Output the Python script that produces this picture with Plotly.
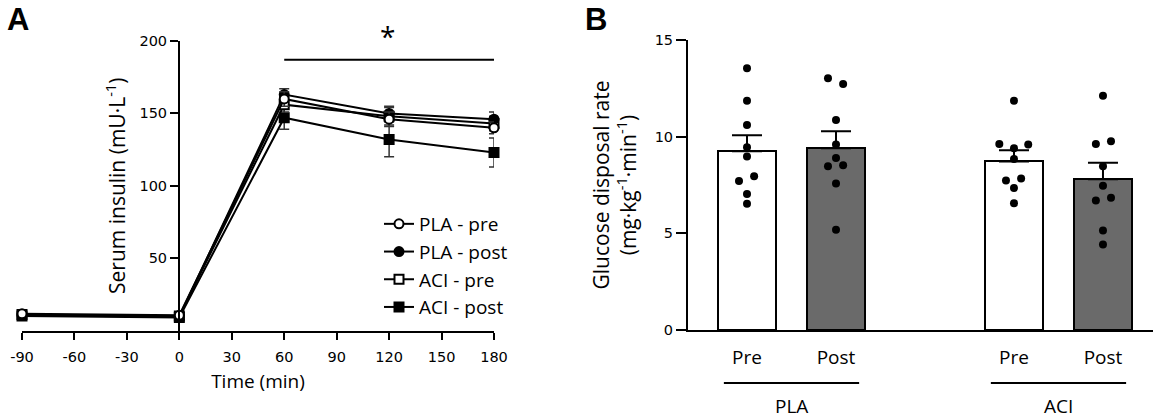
import plotly.graph_objects as go

# ---------------- Panel A data ----------------
times = [-90, 0, 60, 120, 180]
pla_pre = [11.5, 10.5, 160, 146, 140]
pla_pre_sem = [1, 1, 5, 5, 4]
pla_post = [10.5, 9.5, 163, 150, 146]
pla_post_sem = [1, 1, 4, 5, 5]
aci_pre = [11, 10, 156, 148, 143]
aci_pre_sem = [1, 1, 5, 6, 5]
aci_post = [10, 9, 147, 132, 123]
aci_post_sem = [1, 1, 8, 12, 10]
time_ticks = [-90, -60, -30, 0, 30, 60, 90, 120, 150, 180]
time_labels = ["-90", "-60", "-30", "0", "30", "60", "90", "120", "150", "180"]
insulin_ticks = [50, 100, 150, 200]

# ---------------- Panel B data ----------------
conditions = ["Pre", "Post", "Pre", "Post"]
groups = ["PLA", "ACI"]
gdr_mean = [9.25, 9.4, 8.72, 7.8]
gdr_sem = [0.82, 0.88, 0.58, 0.85]
pla_pre_pts = [13.54, 11.86, 10.6, 9.45, 8.98, 7.95, 7.71, 7.03, 6.53]
pla_post_pts = [13.02, 12.73, 10.86, 9.59, 8.9, 8.47, 8.52, 7.58, 5.19]
aci_pre_pts = [11.86, 9.62, 9.4, 9.59, 8.85, 7.73, 7.84, 7.34, 6.56]
aci_post_pts = [12.11, 9.62, 9.76, 8.47, 7.46, 6.7, 6.84, 5.15, 4.42]
gdr_ticks = [0, 5, 10, 15]

FONT = "Open Sans"
TICKFONT = "DejaVu Sans"
fig = go.Figure()

# ---- Panel A traces (drawn in reverse so open circles sit on top) ----
series = [
    ("PLA - pre", pla_pre, pla_pre_sem, "circle", "white", 1),
    ("PLA - post", pla_post, pla_post_sem, "circle", "black", 2),
    ("ACI - pre", aci_pre, aci_pre_sem, "square", "white", 3),
    ("ACI - post", aci_post, aci_post_sem, "square", "black", 4),
]
for name, vals, sem, sym, fill, rank in reversed(series):
    fig.add_trace(go.Scatter(
        x=times, y=vals, name=name, mode="lines+markers", legendrank=rank,
        line=dict(color="black", width=2),
        marker=dict(symbol=sym, size=9, color=fill, line=dict(color="black", width=2)),
        error_y=dict(type="data", array=sem, color="#333333", thickness=1.5, width=5),
        cliponaxis=False, xaxis="x", yaxis="y",
    ))

# ---- Panel B traces ----
bar_pos = [0, 1, 3, 4]
fig.add_trace(go.Bar(
    x=bar_pos, y=gdr_mean, width=0.65,
    marker=dict(color=["white", "#6a6a6a", "white", "#6a6a6a"],
                line=dict(color="black", width=2)),
    error_y=dict(type="data", symmetric=False, array=gdr_sem,
                 arrayminus=[0, 0, 0, 0], color="black", thickness=2, width=15),
    showlegend=False, xaxis="x2", yaxis="y2",
))
pts_sets = [pla_pre_pts, pla_post_pts, aci_pre_pts, aci_post_pts]
jitter_sets = [
    [0, 0, 0, 0, 0, 0.08, -0.09, 0, 0],
    [-0.09, 0.08, 0, 0, 0, -0.09, 0.08, 0, 0],
    [0, -0.165, 0, 0.16, 0, -0.09, 0.08, 0, 0],
    [0, -0.08, 0.09, 0, 0, -0.08, 0.09, 0, 0],
]
for pos, pts, jit in zip(bar_pos, pts_sets, jitter_sets):
    fig.add_trace(go.Scatter(
        x=[pos + j for j in jit], y=pts, mode="markers",
        marker=dict(color="black", size=8),
        showlegend=False, xaxis="x2", yaxis="y2", cliponaxis=False,
    ))

W, H = 1153, 419
axis_common = dict(showline=True, linecolor="black", linewidth=2, showgrid=False,
                   zeroline=False, tickcolor="black", tickwidth=2, automargin=False,
                   tickfont=dict(family=TICKFONT, size=14.5, color="black"))

fig.update_layout(
    template="none",
    width=W, height=H, margin=dict(l=0, r=0, t=0, b=0, pad=0),
    paper_bgcolor="white", plot_bgcolor="rgba(0,0,0,0)",
    font=dict(family=FONT, size=19, color="black"),
    bargap=0,
    xaxis=dict(domain=[22 / W, 494 / W], range=[-90, 180], tickvals=time_ticks,
               ticktext=time_labels,
               ticks="outside", ticklen=7, ticklabelstandoff=5, anchor="y",
               title=dict(text="Time (min)", font=dict(family=FONT, size=19), standoff=11),
               **axis_common),
    yaxis=dict(domain=[1 - 330.5 / H, 1 - 41 / H], range=[0, 200], tickvals=insulin_ticks,
               ticks="outside", ticklen=8, anchor="free", position=179 / W,
               title=dict(text="Serum insulin (mU·L<sup>-1</sup>)", font=dict(family=FONT, size=21),
                          standoff=7),
               **axis_common),
    xaxis2=dict(domain=[688 / W, 1.0], range=[-0.663, 4.562], tickvals=bar_pos,
                ticktext=conditions, ticks="", ticklabelstandoff=9, anchor="y2",
                **{**axis_common, "tickfont": dict(family=FONT, size=19, color="black")}),
    yaxis2=dict(domain=[1 - 330 / H, 1 - 40 / H], range=[0, 15], tickvals=gdr_ticks,
                ticks="outside", ticklen=10, anchor="x2",
                title=dict(text="Glucose disposal rate<br>(mg·kg<sup>-1</sup>·min<sup>-1</sup>)",
                           font=dict(family=FONT, size=21), standoff=12),
                **axis_common),
    legend=dict(x=379 / W, y=1 - 205 / H, xanchor="left", yanchor="top",
                font=dict(family=FONT, size=19), bgcolor="rgba(0,0,0,0)",
                tracegroupgap=0, itemwidth=30, traceorder="normal"),
)

# significance bar panel A
fig.add_shape(type="line", xref="x", yref="y", x0=60, x1=180, y0=187, y1=187,
              line=dict(color="black", width=2))
fig.add_annotation(text="*", xref="x", yref="paper", x=119, y=1 - 36 / H, showarrow=False,
                   yanchor="middle", font=dict(family=FONT, size=28))

# group lines panel B
for (x0, x1), g, xc in zip([(-0.26, 1.26), (2.74, 4.26)], groups, [0.5, 3.5]):
    fig.add_shape(type="line", xref="x2", yref="paper", x0=x0, x1=x1,
                  y0=1 - 383 / H, y1=1 - 383 / H, line=dict(color="black", width=2))
    fig.add_annotation(text=g, xref="x2", yref="paper", x=xc, y=1 - 406 / H,
                       showarrow=False, yanchor="middle", font=dict(family=FONT, size=19))

# panel letters
fig.add_annotation(text="<b>A</b>", xref="paper", yref="paper", x=5 / W, y=1 - 20 / H,
                   xanchor="left", yanchor="middle", showarrow=False,
                   font=dict(family="Liberation Sans", size=31))
fig.add_annotation(text="<b>B</b>", xref="paper", yref="paper", x=583 / W, y=1 - 20 / H,
                   xanchor="left", yanchor="middle", showarrow=False,
                   font=dict(family="Liberation Sans", size=31))

fig.write_html("out.html", config={"displayModeBar": False},
               post_script="document.body.style.margin='0';document.body.style.padding='0';"
                           "document.body.style.overflow='hidden';")
